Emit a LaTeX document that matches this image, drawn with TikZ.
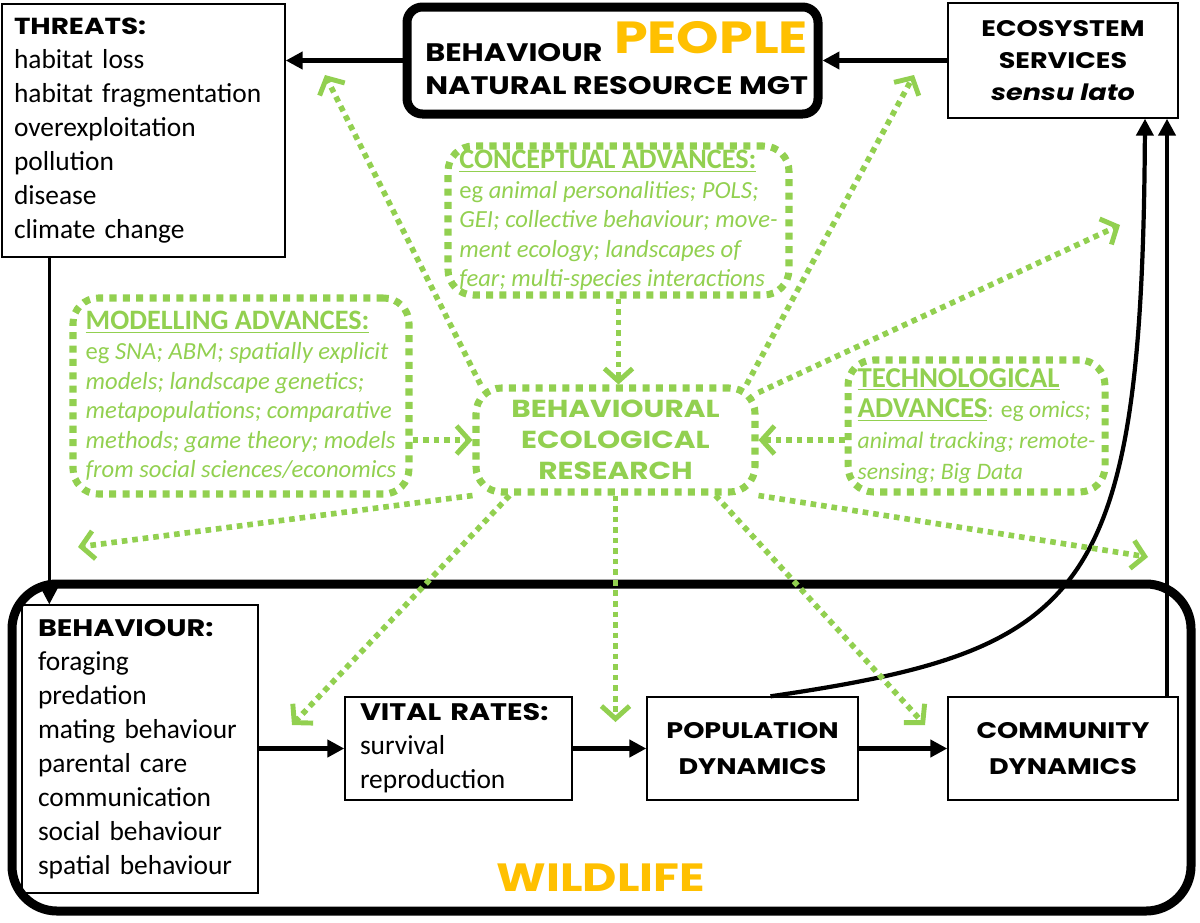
\documentclass[tikz,border=0pt]{standalone}
\usepackage{fontspec}
\setmainfont{Carlito}
\newfontfamily\headfont{Poppins}[FakeStretch=1.2]
\usepackage{xcolor}
\usepackage{tikz}
\usetikzlibrary{arrows.meta}

\definecolor{leaf}{HTML}{92D050}
\definecolor{amber}{HTML}{FFC000}
\newcommand\pxu{0.025cm}
\newcommand\bodytxt{\fontsize{19.5}{24.2}\selectfont}
\newcommand\greentxt{\fontsize{17.5}{21}\selectfont}
\newcommand\headtxt{\headfont\bfseries}

\begin{document}
\begin{tikzpicture}[x=0.025cm, y=-0.025cm,
box/.style={draw, line width=1pt, inner sep=0pt, align=left},
greenbox/.style={draw=leaf, line width=5pt, dash pattern=on 5pt off 4.5pt,
  rounded corners=18pt, inner sep=0pt, align=left, text=leaf, font=\greentxt},
flow/.style={line width=3pt, -{Triangle[length=12pt,width=12pt]}},
link/.style={color=leaf, line width=4pt, dash pattern=on 4pt off 3.5pt,
  -{Straight Barb[length=9pt,width=20pt,line width=3.5pt]}}]
\useasboundingbox (0,0) rectangle (1200,922);

% people
\node[box, minimum width=283*\pxu, minimum height=253*\pxu, text width=259*\pxu,
  font=\bodytxt] (threats) at (143.5,130.5)
  {{\headtxt\fontsize{16.5}{24}\selectfont THREATS:}\\habitat loss\\habitat fragmentation\\
   overexploitation\\pollution\\disease\\climate change};
\node[draw, line width=6.4pt, rounded corners=11pt, minimum width=411*\pxu,
  minimum height=107*\pxu] (people) at (612.5,60.5) {};
\node[anchor=west, align=left, inner sep=0pt,
  font=\headtxt\fontsize{18}{24}\selectfont] (ppltxt) at (425,69)
  {BEHAVIOUR\\NATURAL RESOURCE MGT};
\node[text=amber, inner sep=0pt, font=\headtxt\fontsize{32}{34}\selectfont]
  (pplttl) at (711,38) {PEOPLE};
\node[box, align=center, minimum width=230*\pxu, minimum height=115*\pxu,
  font=\headtxt\fontsize{16}{23}\selectfont] (eco) at (1063,60.5)
  {ECOSYSTEM\\SERVICES\\\textit{sensu lato}};

% research
\node[greenbox, minimum width=341*\pxu, minimum height=149*\pxu]
  (concept) at (618.5,220.5)
  {{\fontsize{20}{21}\selectfont\underline{\textbf{CONCEPTUAL ADVANCES:}}}\\
   eg \textit{animal personalities; POLS;}\\\textit{GEI; collective behaviour; move-}\\
   \textit{ment ecology; landscapes of}\\\textit{fear; multi-species interactions}};
\node[greenbox, minimum width=336*\pxu, minimum height=196*\pxu]
  (model) at (241,396)
  {{\fontsize{20}{21}\selectfont\underline{\textbf{MODELLING ADVANCES:}}}\\
   eg \textit{SNA; ABM; spatially explicit}\\\textit{models; landscape genetics;}\\
   \textit{metapopulations; comparative}\\\textit{methods; game theory; models}\\
   \textit{from social sciences/economics}};
\node[greenbox, minimum width=257*\pxu, minimum height=132*\pxu,
  font=\fontsize{16.8}{22}\selectfont] (tech) at (976.5,426)
  {{\fontsize{20.5}{22}\selectfont\underline{\textbf{TECHNOLOGICAL}}}\\
   {\fontsize{20.5}{22}\selectfont\underline{\textbf{ADVANCES}}}: eg \textit{omics;}\\
   \textit{animal tracking; remote-}\\\textit{sensing; Big Data}};
\node[greenbox, align=center, minimum width=279*\pxu, minimum height=104*\pxu,
  font=\headtxt\fontsize{17.5}{22}\selectfont] (res) at (615.5,440)
  {BEHAVIOURAL\\ECOLOGICAL\\RESEARCH};

% wildlife
\node[draw, line width=6.4pt, rounded corners=32pt, minimum width=1179*\pxu,
  minimum height=327*\pxu] (wild) at (601.5,747.5) {};
\node[text=amber, inner sep=0pt, font=\headtxt\fontsize{28}{30}\selectfont]
  (wildttl) at (601,878) {WILDLIFE};
\node[box, minimum width=236*\pxu, minimum height=288*\pxu, text width=204*\pxu,
  font=\bodytxt] (behav) at (140,749)
  {{\headtxt\fontsize{17}{24}\selectfont BEHAVIOUR:}\\foraging\\predation\\
   mating behaviour\\parental care\\communication\\social behaviour\\spatial behaviour};
\node[box, minimum width=227*\pxu, minimum height=103*\pxu, text width=197*\pxu,
  font=\bodytxt] (vital) at (458.5,748.5)
  {{\headtxt\fontsize{17}{24}\selectfont VITAL RATES:}\\survival\\reproduction};
\node[box, align=center, minimum width=211*\pxu, minimum height=103*\pxu,
  font=\headtxt\fontsize{16}{25}\selectfont] (pop) at (752.5,748.5)
  {POPULATION\\DYNAMICS};
\node[box, align=center, minimum width=230*\pxu, minimum height=103*\pxu,
  font=\headtxt\fontsize{16}{25}\selectfont] (comm) at (1063,748.5)
  {COMMUNITY\\DYNAMICS};

% free ends of the links
\coordinate (tothreats) at (325,75);
\coordinate (topeople) at (914,75);
\coordinate (toeco) at (1120,225);
\coordinate (tocomm) at (1148,557);
\coordinate (tobehav) at (78,547);
\coordinate (tovital) at (292,725);
\coordinate (topop) at (615.5,722);
\coordinate (tocommb) at (925,725);

% black connectors
\draw[flow] (eco.west) -- (people.east);
\draw[flow] (people.west) -- (people.west -| threats.east);
\draw[flow, line width=2.2pt] ([xshift=48*\pxu]threats.south west)
  -- ([xshift=28*\pxu]behav.north west);
\draw[flow] (behav.east |- vital.west) -- (vital.west);
\draw[flow] (vital.east) -- (pop.west);
\draw[flow] (pop.east) -- (comm.west);
\draw[flow] ([xshift=18*\pxu]pop.north) .. controls (1085,650) and (1142,600)
  .. ([xshift=82*\pxu]eco.south);
\draw[flow] ([xshift=104*\pxu]comm.north) -- ([xshift=104*\pxu]eco.south);

% green links
\draw[link] (res.west -| model.east) -- (res.west);
\draw[link] (res.east -| tech.west) -- (res.east);
\draw[link] (concept.south) -- (concept.south |- res.north);
\draw[link] ([xshift=8*\pxu]res.north west) -- (tothreats);
\draw[link] ([xshift=-12*\pxu]res.north east) -- (topeople);
\draw[link] ([yshift=-8*\pxu]res.north east) -- (toeco);
\draw[link] (res.south east) -- (tocomm);
\draw[link] (res.south west) -- (tobehav);
\draw[link] ([xshift=37*\pxu]res.south west) -- (tovital);
\draw[link] (res.south) -- (topop);
\draw[link] ([xshift=-43*\pxu]res.south east) -- (tocommb);
\end{tikzpicture}
\end{document}
